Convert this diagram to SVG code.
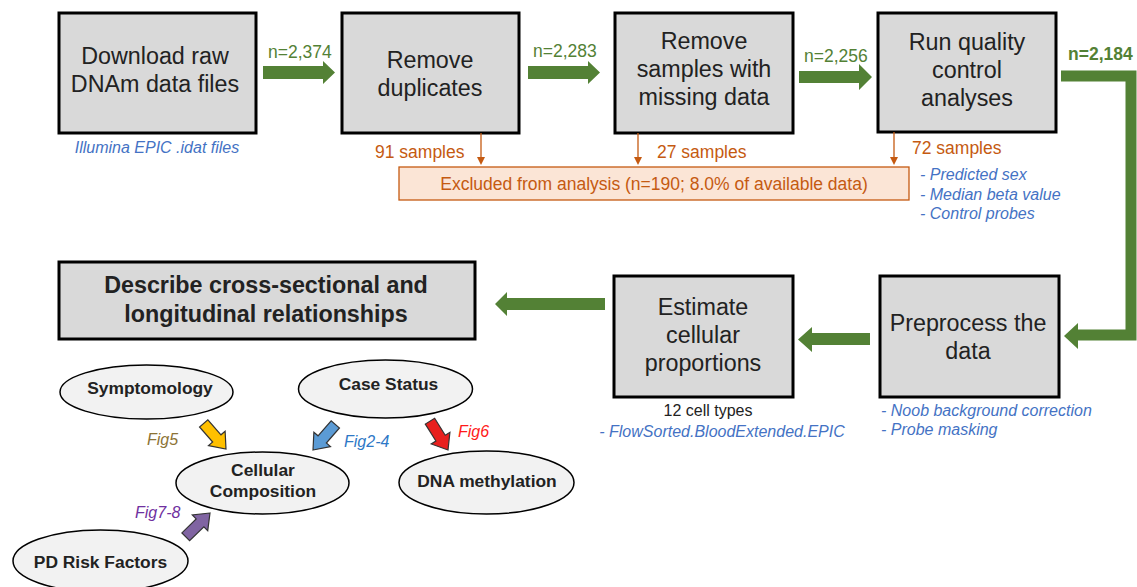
<svg xmlns="http://www.w3.org/2000/svg" width="1137" height="587" viewBox="0 0 1137 587">
<style>
.box{fill:#d9d9d9;stroke:#000;stroke-width:3}
.ell{fill:#f2f2f2;stroke:#000;stroke-width:1.5}
.bt{font-family:"Liberation Sans",Arial,sans-serif;font-size:23.3px;fill:#222;text-anchor:middle}
.bb{font-family:"Liberation Sans",Arial,sans-serif;font-size:23.3px;font-weight:bold;fill:#222;text-anchor:middle}
.et{font-family:"Liberation Sans",Arial,sans-serif;font-size:17.4px;font-weight:bold;fill:#222;text-anchor:middle}
.n{font-family:"Liberation Sans",Arial,sans-serif;font-size:17.5px;fill:#538135}
.nb{font-family:"Liberation Sans",Arial,sans-serif;font-size:17.5px;fill:#538135;font-weight:bold}
.or{font-family:"Liberation Sans",Arial,sans-serif;font-size:17.5px;fill:#c55a11}
.bl{font-family:"Liberation Sans",Arial,sans-serif;font-size:16px;fill:#4472c4;font-style:italic}
.bk{font-family:"Liberation Sans",Arial,sans-serif;font-size:16px;fill:#222}
.fg{font-family:"Liberation Sans",Arial,sans-serif;font-size:16px;font-style:italic}
.ga{fill:#538135}
.ol{stroke:#c55a11;stroke-width:1.3;fill:none}
.oh{fill:#c55a11}
.blk{stroke:#333;stroke-width:1.2}
</style>
<defs>
<path id="blockArrow" d="M0,0 L-14,-11 L-14,-5.5 L-34,-5.5 L-34,5.5 L-14,5.5 L-14,11 Z"/>
</defs>

<g id="n-download">
<rect class="box" x="59" y="13" width="197" height="120"/>
<text class="bt" x="155" y="64">Download raw</text>
<text class="bt" x="155" y="92">DNAm data files</text>
<text class="bl" x="157" y="153" text-anchor="middle">Illumina EPIC .idat files</text>
</g>

<g id="n-duplicates">
<rect class="box" x="342" y="13" width="177" height="120"/>
<text class="bt" x="430" y="68">Remove</text>
<text class="bt" x="430" y="96">duplicates</text>
</g>

<g id="n-missing">
<rect class="box" x="615" y="13" width="178" height="120"/>
<text class="bt" x="704" y="49">Remove</text>
<text class="bt" x="704" y="77">samples with</text>
<text class="bt" x="704" y="105">missing data</text>
</g>

<g id="n-qc">
<rect class="box" x="878" y="13" width="178" height="119"/>
<text class="bt" x="967" y="50">Run quality</text>
<text class="bt" x="967" y="78">control</text>
<text class="bt" x="967" y="106">analyses</text>
<text class="bl" x="920" y="180">- Predicted sex</text>
<text class="bl" x="920" y="200">- Median beta value</text>
<text class="bl" x="920" y="219">- Control probes</text>
</g>

<g id="n-excluded">
<rect x="399" y="167" width="510" height="33" fill="#fbe5d6" stroke="#c55a11" stroke-width="1.3"/>
<text class="or" x="654" y="190" text-anchor="middle">Excluded from analysis (n=190; 8.0% of available data)</text>
</g>

<g id="n-preprocess">
<rect class="box" x="880" y="276" width="179" height="121"/>
<text class="bt" x="968" y="331">Preprocess the</text>
<text class="bt" x="968" y="359">data</text>
<text class="bl" x="881" y="416">- Noob background correction</text>
<text class="bl" x="881" y="435">- Probe masking</text>
</g>

<g id="n-estimate">
<rect class="box" x="614" y="276" width="179" height="121"/>
<text class="bt" x="703" y="315">Estimate</text>
<text class="bt" x="703" y="343">cellular</text>
<text class="bt" x="703" y="371">proportions</text>
<text class="bk" x="708" y="416" text-anchor="middle">12 cell types</text>
<text class="bl" x="722" y="437" text-anchor="middle">- FlowSorted.BloodExtended.EPIC</text>
</g>

<g id="n-describe">
<rect class="box" x="59" y="262" width="416" height="77"/>
<text class="bb" x="266" y="293">Describe cross-sectional and</text>
<text class="bb" x="266" y="322">longitudinal relationships</text>
</g>

<g id="n-symptomology">
<ellipse class="ell" cx="146.5" cy="392" rx="86.5" ry="27"/>
<text class="et" x="150" y="394">Symptomology</text>
</g>

<g id="n-case">
<ellipse class="ell" cx="385.5" cy="389" rx="87" ry="29"/>
<text class="et" x="388.5" y="390">Case Status</text>
</g>

<g id="n-cellular">
<ellipse class="ell" cx="262.5" cy="483" rx="86.5" ry="31"/>
<text class="et" x="263" y="476">Cellular</text>
<text class="et" x="263" y="497">Composition</text>
</g>

<g id="n-dna">
<ellipse class="ell" cx="486.5" cy="482.5" rx="87.5" ry="31.5"/>
<text class="et" x="487" y="487">DNA methylation</text>
</g>

<g id="n-pd">
<ellipse class="ell" cx="100.5" cy="561" rx="87.5" ry="31"/>
<text class="et" x="100.5" y="568">PD Risk Factors</text>
</g>

<g id="connectors">
<!-- top row green arrows -->
<polygon class="ga" points="263,66 323,66 323,61 335,72.5 323,84 323,79 263,79"/>
<text class="n" x="268" y="58">n=2,374</text>
<polygon class="ga" points="528,66 588,66 588,61 600,72.5 588,84 588,79 528,79"/>
<text class="n" x="533" y="57">n=2,283</text>
<polygon class="ga" points="799,71 859,71 859,64 872,77 859,90 859,83 799,83"/>
<text class="n" x="804" y="62">n=2,256</text>
<text class="nb" x="1068" y="60">n=2,184</text>
<!-- elbow connector -->
<polyline points="1061,76 1131,76 1131,335 1076,335" fill="none" stroke="#538135" stroke-width="11"/>
<polygon class="ga" points="1078,323 1064,336 1078,349"/>
<!-- bottom row arrows -->
<polygon class="ga" points="870,333 812,333 812,327 798,339.5 812,352 812,345 870,345"/>
<polygon class="ga" points="605,298 507,298 507,292 495,304 507,316 507,310 605,310"/>
<!-- orange exclusion arrows -->
<line class="ol" x1="481" y1="133" x2="481" y2="158"/>
<polygon class="oh" points="477,157 485,157 481,165"/>
<text class="or" x="375" y="158">91 samples</text>
<line class="ol" x1="638" y1="133" x2="638" y2="158"/>
<polygon class="oh" points="634,157 642,157 638,165"/>
<text class="or" x="657" y="158">27 samples</text>
<line class="ol" x1="894" y1="132" x2="894" y2="158"/>
<polygon class="oh" points="890,157 898,157 894,165"/>
<text class="or" x="912" y="154">72 samples</text>
<!-- block arrows -->
<use href="#blockArrow" class="blk" fill="#ffc000" transform="translate(226,449) rotate(49)"/>
<text class="fg" x="147" y="445" fill="#8c7335">Fig5</text>
<use href="#blockArrow" class="blk" fill="#5b9bd5" transform="translate(313,450) rotate(131)"/>
<text class="fg" x="344" y="447" fill="#2e78c6">Fig2-4</text>
<use href="#blockArrow" class="blk" fill="#e8201e" transform="translate(448,450) rotate(58)"/>
<text class="fg" x="458" y="437" fill="#ff1a1a">Fig6</text>
<use href="#blockArrow" class="blk" fill="#8064a2" transform="translate(210,513) rotate(-44.5)"/>
<text class="fg" x="135" y="518" fill="#7030a0">Fig7-8</text>
</g>
</svg>
